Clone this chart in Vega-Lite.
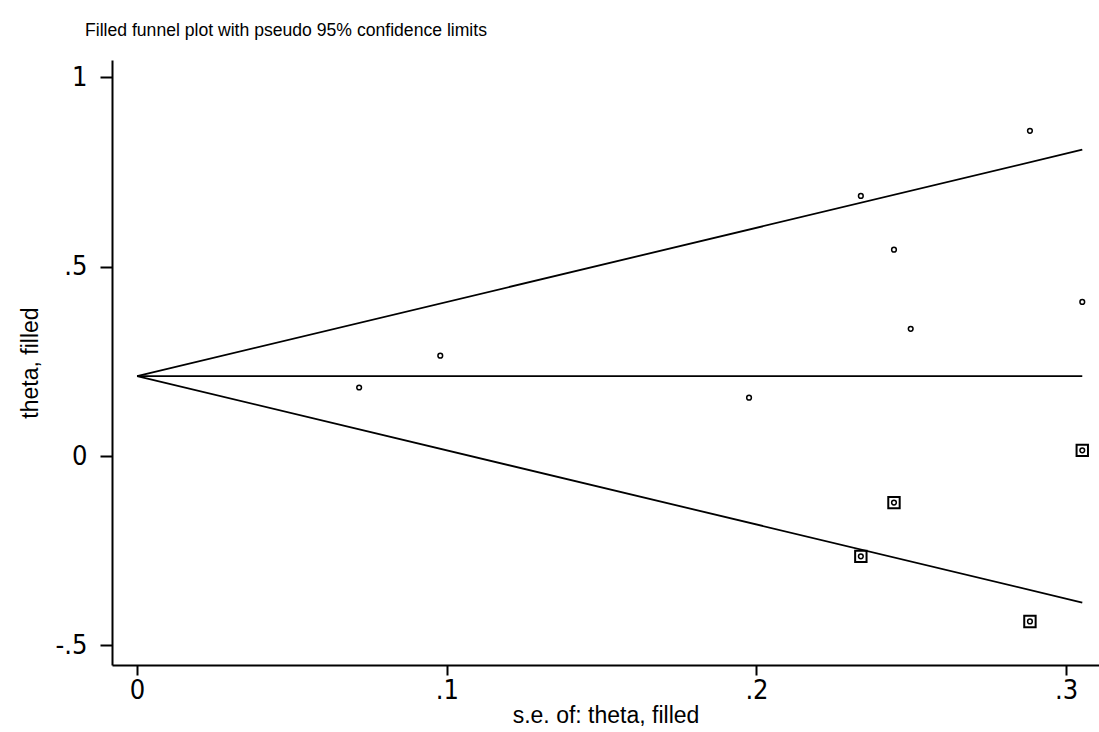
{
  "$schema": "https://vega.github.io/schema/vega-lite/v6.json",
  "width": 987,
  "height": 605,
  "autosize": {"type": "none"},
  "padding": {"left": 112, "top": 60, "right": 0, "bottom": 67},
  "background": "white",
  "title": {
    "text": "Filled funnel plot with pseudo 95% confidence limits",
    "anchor": "start",
    "frame": "group",
    "font": "Liberation Sans",
    "fontSize": 17.6,
    "fontWeight": "normal",
    "color": "black",
    "baseline": "alphabetic",
    "offset": 23,
    "dx": -27,
    "dy": 17
  },
  "config": {
    "view": {"stroke": null},
    "axis": {
      "domainColor": "black",
      "domainWidth": 2,
      "tickColor": "black",
      "tickWidth": 2,
      "grid": false,
      "labelColor": "black",
      "titleColor": "black",
      "labelFont": "Liberation Sans Narrow, DejaVu Sans Condensed, Liberation Sans",
      "labelFontSize": 27,
      "titleFont": "Liberation Sans",
      "titleFontSize": 23,
      "titleFontWeight": "normal"
    }
  },
  "datasets": {
    "studies": [
      {"se": 0.0717, "theta": 0.181, "filled": "observed"},
      {"se": 0.0979, "theta": 0.265, "filled": "observed"},
      {"se": 0.1976, "theta": 0.154, "filled": "observed"},
      {"se": 0.2337, "theta": 0.687, "filled": "observed"},
      {"se": 0.2444, "theta": 0.545, "filled": "observed"},
      {"se": 0.2498, "theta": 0.336, "filled": "observed"},
      {"se": 0.2883, "theta": 0.859, "filled": "observed"},
      {"se": 0.3052, "theta": 0.407, "filled": "observed"},
      {"se": 0.2337, "theta": -0.265, "filled": "filled"},
      {"se": 0.2444, "theta": -0.123, "filled": "filled"},
      {"se": 0.2883, "theta": -0.437, "filled": "filled"},
      {"se": 0.3052, "theta": 0.015, "filled": "filled"}
    ],
    "limits": [
      {"se": 0, "theta": 0.211, "line": "upper"},
      {"se": 0.3052, "theta": 0.809, "line": "upper"},
      {"se": 0, "theta": 0.211, "line": "lower"},
      {"se": 0.3052, "theta": -0.387, "line": "lower"},
      {"se": 0, "theta": 0.211, "line": "pooled"},
      {"se": 0.3052, "theta": 0.211, "line": "pooled"}
    ]
  },
  "encoding": {
    "x": {
      "field": "se",
      "type": "quantitative",
      "scale": {"domain": [-0.0081, 0.3106], "nice": false, "zero": false},
      "axis": {
        "title": "s.e. of: theta, filled",
        "values": [0, 0.1, 0.2, 0.3],
        "labelExpr": "replace('' + datum.value, '0.', '.')",
        "tickSize": 10,
        "labelPadding": 2,
        "titlePadding": 1,
        "labelFlush": false,
        "labelOverlap": false
      }
    },
    "y": {
      "field": "theta",
      "type": "quantitative",
      "scale": {"domain": [-0.552, 1.046], "nice": false, "zero": false},
      "axis": {
        "title": "theta, filled",
        "values": [-0.5, 0, 0.5, 1],
        "labelExpr": "replace('' + datum.value, '0.', '.')",
        "tickSize": 12,
        "labelPadding": 13,
        "titlePadding": 13,
        "labelFlush": false,
        "labelOverlap": false
      }
    }
  },
  "layer": [
    {
      "data": {"name": "limits"},
      "mark": {"type": "line", "color": "black", "strokeWidth": 1.8},
      "encoding": {"detail": {"field": "line"}, "order": {"field": "se"}}
    },
    {
      "data": {"name": "studies"},
      "mark": {"type": "point", "shape": "circle", "filled": false, "color": "black", "strokeWidth": 1.5, "size": 22, "opacity": 1}
    },
    {
      "data": {"name": "studies"},
      "transform": [{"filter": "datum.filled == 'filled'"}],
      "mark": {"type": "point", "shape": "square", "filled": false, "color": "black", "strokeWidth": 2, "size": 130, "opacity": 1}
    }
  ]
}
